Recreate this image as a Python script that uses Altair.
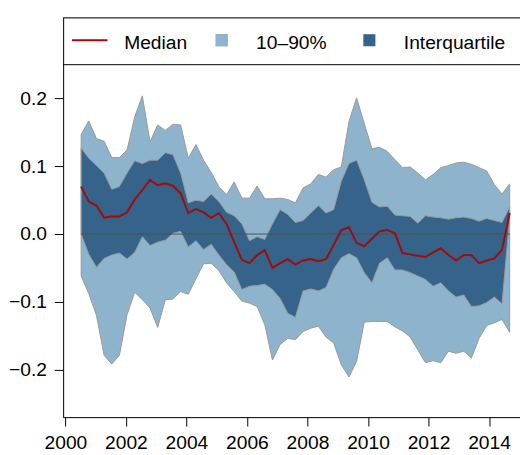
import altair as alt
import pandas as pd

# ---- data (quarterly, mid-2000 to late 2014) ----
start_year = 2000.52
step_year = 0.2529

p90 = [0.147, 0.167, 0.141, 0.137, 0.113, 0.113, 0.124, 0.173, 0.204, 0.136,
       0.161, 0.153, 0.162, 0.161, 0.112, 0.132, 0.109, 0.091, 0.070, 0.058,
       0.077, 0.053, 0.053, 0.071, 0.052, 0.052, 0.053, 0.051, 0.046, 0.068,
       0.074, 0.088, 0.084, 0.095, 0.099, 0.166, 0.201, 0.163, 0.126, 0.128,
       0.122, 0.110, 0.098, 0.099, 0.090, 0.080, 0.088, 0.098, 0.101, 0.105,
       0.106, 0.103, 0.098, 0.093, 0.073, 0.059, 0.074]
p75 = [0.127, 0.112, 0.101, 0.090, 0.066, 0.070, 0.090, 0.108, 0.104, 0.109,
       0.109, 0.120, 0.117, 0.090, 0.046, 0.050, 0.048, 0.059, 0.048, 0.032,
       0.027, 0.015, -0.010, -0.004, -0.008, 0.015, 0.036, 0.029, 0.017, 0.020,
       0.031, 0.042, 0.031, 0.036, 0.078, 0.104, 0.109, 0.080, 0.047, 0.040,
       0.041, 0.028, 0.027, 0.026, 0.016, 0.027, 0.025, 0.024, 0.022, 0.024,
       0.025, 0.023, 0.019, 0.023, 0.020, 0.017, 0.040]
median = [0.070, 0.048, 0.042, 0.024, 0.026, 0.026, 0.032, 0.051, 0.065, 0.080,
          0.072, 0.075, 0.071, 0.060, 0.031, 0.037, 0.032, 0.024, 0.031, 0.015,
          -0.012, -0.038, -0.043, -0.031, -0.024, -0.050, -0.043, -0.037, -0.045, -0.039,
          -0.037, -0.040, -0.037, -0.016, 0.006, 0.010, -0.013, -0.018, -0.007, 0.004,
          0.006, 0.001, -0.028, -0.030, -0.032, -0.034, -0.027, -0.021, -0.031, -0.039,
          -0.031, -0.031, -0.043, -0.039, -0.036, -0.023, 0.031]
p25 = [0.000, -0.030, -0.049, -0.036, -0.031, -0.028, -0.037, -0.027, -0.004, -0.017,
       -0.012, -0.009, 0.001, 0.004, -0.019, -0.010, -0.023, -0.015, -0.031, -0.045,
       -0.056, -0.082, -0.077, -0.076, -0.074, -0.082, -0.095, -0.117, -0.123, -0.084,
       -0.081, -0.084, -0.079, -0.052, -0.035, -0.029, -0.035, -0.057, -0.072, -0.043,
       -0.035, -0.053, -0.053, -0.057, -0.062, -0.067, -0.077, -0.072, -0.084, -0.093,
       -0.090, -0.107, -0.106, -0.101, -0.093, -0.103, 0.024]
p10 = [-0.062, -0.088, -0.120, -0.179, -0.192, -0.179, -0.119, -0.086, -0.097, -0.109,
       -0.138, -0.097, -0.096, -0.085, -0.089, -0.066, -0.044, -0.043, -0.054, -0.072,
       -0.085, -0.099, -0.102, -0.107, -0.134, -0.186, -0.163, -0.154, -0.156, -0.144,
       -0.139, -0.136, -0.152, -0.161, -0.193, -0.211, -0.188, -0.130, -0.129, -0.129,
       -0.129, -0.137, -0.143, -0.152, -0.171, -0.190, -0.187, -0.190, -0.173, -0.176,
       -0.173, -0.183, -0.154, -0.135, -0.131, -0.126, -0.145]

x_ticks = [2000, 2002, 2004, 2006, 2008, 2010, 2012, 2014]
y_ticks = [-0.2, -0.1, 0.0, 0.1, 0.2]
legend_labels = ["Median", "10\u201390%", "Interquartile"]

years = [round(start_year + i * step_year, 4) for i in range(len(median))]
df = pd.DataFrame({"year": years, "p10": p10, "p25": p25, "median": median,
                   "p75": p75, "p90": p90})

FONT = "Liberation Sans"
LIGHT = "#8db4cc"
DARK = "#356389"
RED = "#a00b0b"
OUTLINE = "#999999"

axis_style = dict(title=None, tickSize=9, grid=False, labelFont=FONT,
                  labelFontSize=19.5, labelColor="black", tickColor="black",
                  domainColor="black", domainWidth=1, tickWidth=1)

x_enc = alt.X("year:Q",
              scale=alt.Scale(domain=[1999.925, 2015.024], nice=False, zero=False),
              axis=alt.Axis(values=x_ticks, format="d", labelPadding=8,
                            labelFlush=False, labelOverlap=False, **axis_style))
y_scale = alt.Scale(domain=[-0.2703, 0.3198], nice=False, zero=False)
y_axis = alt.Axis(values=y_ticks, format=".1f", labelPadding=8, **axis_style)

base = alt.Chart(df)

band90 = base.mark_area(color=LIGHT, stroke=OUTLINE, strokeWidth=1, opacity=1).encode(
    x=x_enc, y=alt.Y("p10:Q", scale=y_scale, axis=y_axis), y2="p90:Q")
band50 = base.mark_area(color=DARK, stroke=OUTLINE, strokeWidth=1, opacity=1).encode(
    x="year:Q", y="p25:Q", y2="p75:Q")
zero = base.mark_line(color="#505050", strokeWidth=1).encode(
    x="year:Q", y=alt.datum(0))
med = base.mark_line(color=RED, strokeWidth=2).encode(x="year:Q", y="median:Q")

# legend strip inside the box
sep = alt.Chart(pd.DataFrame({"v": [0.25]})).mark_rule(color="black", strokeWidth=1).encode(
    y=alt.Y("v:Q"))
top_line = alt.Chart(pd.DataFrame({"v": [0]})).mark_rule(color="black", strokeWidth=1).encode(
    y=alt.value(0.5))

leg_line = alt.Chart(pd.DataFrame({"k": [0]})).mark_rule(color=RED, strokeWidth=2).encode(
    x=alt.value(9), x2=alt.value(45), y=alt.value(23.3))
leg_sq1 = alt.Chart(pd.DataFrame({"k": [0]})).mark_square(
    color=LIGHT, opacity=1, size=160).encode(x=alt.value(161), y=alt.value(23.2))
leg_sq2 = alt.Chart(pd.DataFrame({"k": [0]})).mark_square(
    color=DARK, opacity=1, size=150).encode(x=alt.value(311), y=alt.value(23.2))

def leg_text(label, xpos):
    return alt.Chart(pd.DataFrame({"label": [label]})).mark_text(
        align="left", baseline="alphabetic", font=FONT, fontSize=19.5, color="black"
    ).encode(text="label:N", x=alt.value(xpos), y=alt.value(31.7))

chart = alt.layer(
    band90, band50, zero, med, sep, top_line, leg_line, leg_sq1, leg_sq2,
    leg_text(legend_labels[0], 62), leg_text(legend_labels[1], 196),
    leg_text(legend_labels[2], 346),
).properties(
    width=464, height=406,
    padding={"left": 56, "top": 6, "right": 0, "bottom": 41},
    autosize=alt.AutoSizeParams(type="none"),
).configure_view(stroke=None).configure(background="white")

chart.save("out.html", embed_options={"renderer": "svg", "actions": False})
